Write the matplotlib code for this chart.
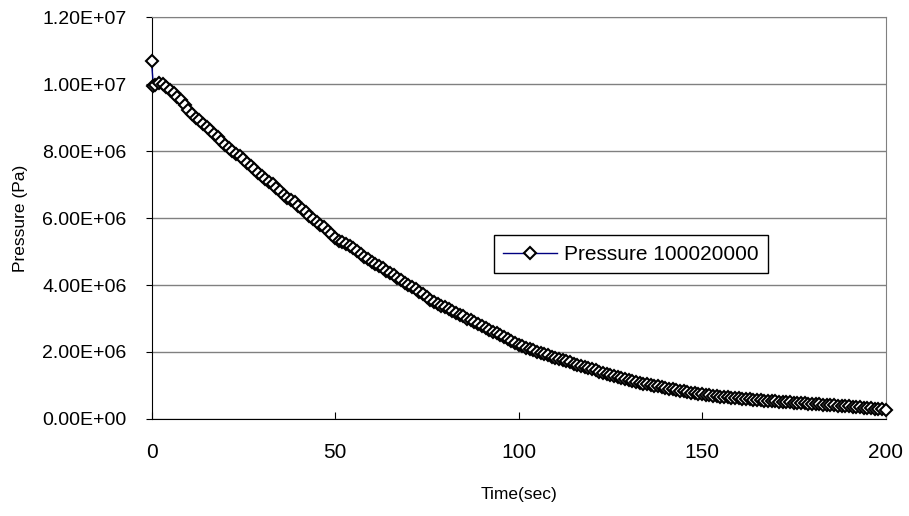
import numpy as np
import matplotlib
matplotlib.use("Agg")
import matplotlib.pyplot as plt
from matplotlib.ticker import FuncFormatter, MultipleLocator

plt.rcParams['font.family'] = ['Liberation Sans', 'DejaVu Sans']

# --- blowdown record: time (s) and pressure (MPa) ---
time_s = [0, 0.5] + list(range(1, 201))
pressure_mpa = [
    10.68, 9.93,
    9.98, 10.03, 10.00, 9.92, 9.82, 9.72, 9.62, 9.52, 9.38, 9.22,
    9.10, 9.00, 8.92, 8.82, 8.72, 8.62, 8.52, 8.41, 8.30, 8.19,
    8.08, 7.99, 7.91, 7.84, 7.75, 7.65, 7.56, 7.46, 7.35, 7.24,
    7.16, 7.08, 7.01, 6.91, 6.80, 6.69, 6.61, 6.54, 6.47, 6.37,
    6.28, 6.17, 6.06, 5.96, 5.88, 5.80, 5.72, 5.62, 5.51, 5.40,
    5.32, 5.27, 5.21, 5.15, 5.09, 5.01, 4.93, 4.85, 4.77, 4.70,
    4.63, 4.56, 4.50, 4.43, 4.36, 4.29, 4.22, 4.14, 4.07, 4.00,
    3.94, 3.88, 3.80, 3.72, 3.63, 3.55, 3.49, 3.43, 3.38, 3.33,
    3.28, 3.22, 3.17, 3.11, 3.06, 3.00, 2.95, 2.89, 2.84, 2.78,
    2.72, 2.67, 2.61, 2.56, 2.51, 2.45, 2.40, 2.34, 2.28, 2.22,
    2.17, 2.13, 2.09, 2.05, 2.01, 1.97, 1.93, 1.90, 1.86, 1.83,
    1.79, 1.76, 1.72, 1.69, 1.65, 1.62, 1.58, 1.55, 1.51, 1.48,
    1.45, 1.41, 1.38, 1.35, 1.32, 1.29, 1.26, 1.23, 1.20, 1.17,
    1.14, 1.11, 1.08, 1.05, 1.03, 1.01, 0.99, 0.97, 0.95, 0.93,
    0.91, 0.89, 0.87, 0.85, 0.83, 0.81, 0.79, 0.77, 0.76, 0.74,
    0.73, 0.71, 0.70, 0.68, 0.67, 0.66, 0.65, 0.64, 0.63, 0.62,
    0.61, 0.60, 0.59, 0.58, 0.57, 0.56, 0.55, 0.55, 0.54, 0.53,
    0.52, 0.52, 0.51, 0.50, 0.49, 0.48, 0.47, 0.47, 0.46, 0.45,
    0.44, 0.44, 0.43, 0.42, 0.42, 0.41, 0.40, 0.39, 0.39, 0.38,
    0.37, 0.36, 0.35, 0.34, 0.33, 0.32, 0.31, 0.30, 0.29, 0.28,
]
series_name = 'Pressure 100020000'

t = np.array(time_s, dtype=float)
p = np.array(pressure_mpa) * 1e6

fig = plt.figure(figsize=(9.09, 5.16), dpi=100)
ax = fig.add_axes([0.1667, 0.188, 0.8075, 0.779])

ax.plot(t, p, color='#000080', lw=1.0, marker='D', ms=5.8,
        mfc='white', mec='black', mew=1.5, label=series_name,
        zorder=3, clip_on=False)

ax.set_xlim(0, 200)
ax.set_ylim(0, 1.2e7)
ax.xaxis.set_major_locator(MultipleLocator(50))
ax.yaxis.set_major_locator(MultipleLocator(2e6))
ax.yaxis.set_major_formatter(FuncFormatter(lambda v, pos: f'{v:.2E}'))

ax.grid(axis='y', color='#808080', lw=1.0)
ax.set_axisbelow(True)
for side in ('top', 'right'):
    ax.spines[side].set_color('#808080')
for side in ('left', 'bottom'):
    ax.spines[side].set_color('black')

ax.tick_params(axis='x', direction='in', length=5, labelsize=15, pad=17)
ax.tick_params(axis='y', direction='out', length=4, labelsize=14, pad=14)

ax.set_xlabel('Time(sec)', fontsize=12.5, labelpad=18)
ax.set_ylabel('Pressure (Pa)', fontsize=12.5, labelpad=10)

leg = ax.legend(loc='center', bbox_to_anchor=(0.542, 0.470, 0.304, 0.0742),
                bbox_transform=fig.transFigure, fontsize=15, frameon=True,
                fancybox=False, edgecolor='black', framealpha=1,
                handlelength=2.6, handletextpad=0.3, borderpad=0.45)
leg.get_frame().set_linewidth(1.0)

fig.savefig('out.png', dpi=100)
